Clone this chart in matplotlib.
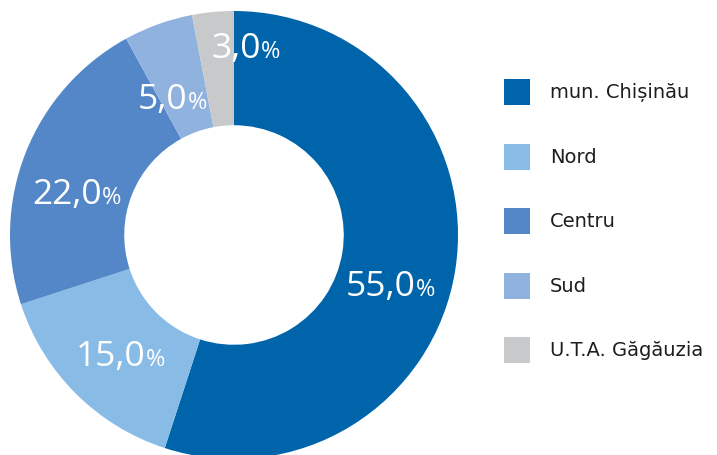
import matplotlib
matplotlib.use("Agg")
import matplotlib.pyplot as plt
import numpy as np
from matplotlib.patches import Rectangle

categories = ["mun. Chișinău", "Nord", "Centru", "Sud", "U.T.A. Găgăuzia"]
values = [55.0, 15.0, 22.0, 5.0, 3.0]
colors = ["#0064AB", "#88BBE6", "#5487C7", "#90B2DE", "#C8C9CB"]
value_labels = ["55,0", "15,0", "22,0", "5,0", "3,0"]

W, H = 717, 456
fig = plt.figure(figsize=(W / 100, H / 100), dpi=100)
FONT = ["Open Sans", "DejaVu Sans"]
LEG_FONT = ["DejaVu Sans"]

ax = fig.add_axes([10 / W, -4 / H, 448 / W, 448 / H])
wedges, _ = ax.pie(values, colors=colors, startangle=90, counterclock=False,
                   radius=1.0, wedgeprops=dict(width=0.51, edgecolor="none"))
ax.set_xlim(-1, 1)
ax.set_ylim(-1, 1)
ax.set_aspect("equal")
ax.axis("off")

# label placement: radius and angle tweaks (style only)
label_r = [0.73, 0.73, 0.73, 0.68, 0.85]
angle_shift = [-8, 1, 6, 4, -9]

fig.canvas.draw()
renderer = fig.canvas.get_renderer()
for w, txt, r, sh in zip(wedges, value_labels, label_r, angle_shift):
    mid = np.deg2rad((w.theta1 + w.theta2) / 2 + sh)
    x, y = r * np.cos(mid), r * np.sin(mid)
    t1 = ax.text(x, y, txt, color="white", fontsize=25.5, family=FONT,
                 fontweight="normal", ha="left", va="baseline")
    t2 = ax.text(x, y, "%", color="white", fontsize=17, family=FONT,
                 fontweight="normal", ha="left", va="baseline")
    b1 = t1.get_window_extent(renderer)
    b2 = t2.get_window_extent(renderer)
    total = b1.width + b2.width
    px0, py0 = ax.transData.transform((x, y))
    start = px0 - total / 2
    base = py0 - 12
    inv = ax.transData.inverted()
    t1.set_position(inv.transform((start, base)))
    t2.set_position(inv.transform((start + b1.width, base)))

# legend
row_y0 = 93
row_dy = 64.5
sq = 26
for i, (cat, col) in enumerate(zip(categories, colors)):
    cy = row_y0 + i * row_dy
    fig.patches.append(Rectangle((504 / W, (H - cy - sq / 2) / H), sq / W, sq / H,
                                 transform=fig.transFigure, facecolor=col,
                                 edgecolor="none"))
    fig.text(550 / W, (H - cy) / H, cat, fontsize=14, family=LEG_FONT,
             color="#1e1e1e", ha="left", va="center")

fig.savefig("out.png", dpi=100)
